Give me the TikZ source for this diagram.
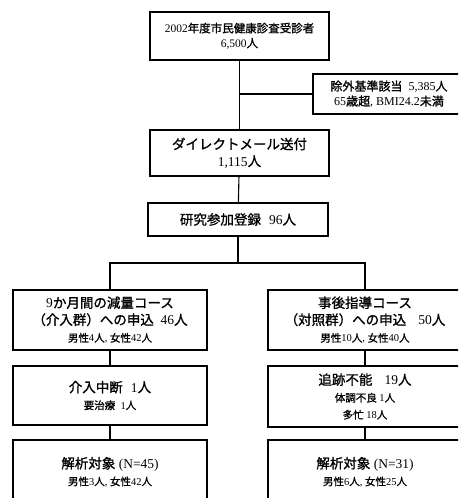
\documentclass[tikz,border=0pt]{standalone}
\usepackage{fontspec}
\setmainfont{Liberation Serif}
\newfontfamily\jp[FakeBold=1.2]{Noto Sans CJK JP}
\newcommand\J[1]{{\jp #1}}
\newcommand\fbig{\fontsize{13.5}{17}\selectfont}
\newcommand\fmid{\fontsize{11.5}{15}\selectfont}
\newcommand\fexc{\fontsize{12}{15}\selectfont}
\newcommand\fsml{\fontsize{10.5}{14}\selectfont}
\begin{document}
\begin{tikzpicture}[x=1pt,y=-1pt,
  box/.style={draw, line width=1.1pt, inner sep=0pt, align=center},
  wide/.style={box, minimum width=179pt},
  side/.style={box, minimum width=194pt, font=\fbig},
  ln/.style={line width=1.1pt}]
\clip (0,0) rectangle (458,498);
\node[wide, minimum height=48pt, font=\fmid] (top) at (239.5,36)
  {2002\J{年度市民健康診査受診者}\\ 6,500\J{人}};
\node[box, minimum width=152pt, minimum height=40pt, font=\fexc] (excl) at (389,94)
  {\J{除外基準該当}\hspace{0.5em}5,385\J{人}\\ 65\J{歳超}, BMI24.2\J{未満}};
\node[wide, minimum height=46pt, font=\fbig] (dm) at (239.5,153)
  {\J{ダイレクトメール送付}\\ 1,115\J{人}};
\node[box, minimum width=180pt, minimum height=33pt, font=\fbig] (reg) at (238,219.5)
  {\J{研究参加登録}\hspace{0.6em}96\J{人}};
\coordinate (split) at (reg.south |- 0,263);
\node[side, minimum height=60pt] (l1) at (110,320)
  {9\J{か月間の減量コース}\\ \J{（介入群）への申込}\hspace{0.5em}46\J{人}\\
   \fsml\J{男性}4\J{人}, \J{女性}42\J{人}};
\node[side, minimum height=60pt] (r1) at (365,320)
  {\J{事後指導コース}\\ \J{（対照群）への申込}\hspace{0.9em}50\J{人}\\
   \fsml\J{男性}10\J{人}, \J{女性}40\J{人}};
\node[side, minimum height=59pt] (l2) at (110,395.5)
  {\J{介入中断}\hspace{0.6em}1\J{人}\\
   \fsml\J{要治療}\hspace{0.5em}1\J{人}};
\node[side, minimum height=61pt] (r2) at (365,396.5)
  {\J{追跡不能}\hspace{0.9em}19\J{人}\\
   \fsml\J{体調不良} 1\J{人}\\ \fsml\J{多忙} 18\J{人}};
\node[side, minimum height=64pt] (l3) at (110,472)
  {\J{解析対象} (N=45)\\
   \fsml\J{男性}3\J{人}, \J{女性}42\J{人}};
\node[side, minimum height=64pt] (r3) at (365,472)
  {\J{解析対象} (N=31)\\
   \fsml\J{男性}6\J{人}, \J{女性}25\J{人}};
\draw[ln] (top) -- (dm);
\draw[ln] (top.south |- excl.west) -- (excl.west);
\draw[ln] (dm) -- (reg);
\draw[ln] (reg.south) -- (split);
\draw[ln] (l1.north) |- (split) -| (r1.north);
\draw[ln] (l1) -- (l2);
\draw[ln] (l2) -- (l3);
\draw[ln] (r1) -- (r2);
\draw[ln] (r2) -- (r3);
\end{tikzpicture}
\end{document}
